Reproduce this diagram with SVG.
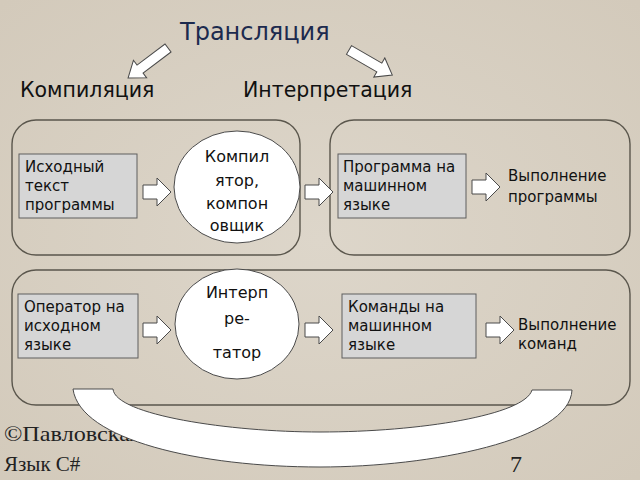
<svg xmlns="http://www.w3.org/2000/svg" width="640" height="480" viewBox="0 0 640 480">
<defs>
<style>
.t{font-family:"DejaVu Sans","Noto Sans",sans-serif;fill:#111}
.bx{fill:#d6d6d6;stroke:#5e5e5e;stroke-width:1}
.grp{fill:none;stroke:#5a564c;stroke-width:1.4}
.arr{fill:#fff;stroke:#4a4a4a;stroke-width:1}
.ov{fill:#fff;stroke:#4a4a4a;stroke-width:1}
.ser{font-family:"Liberation Serif","Times New Roman",serif;fill:#222}
</style>
<path id="ha" d="M0,-7 H14 V-14 L28,0 L14,14 V7 H0 Z"/>
<path id="la" d="M0,-5 H35 V-11 L50,0 L35,11 V5 H0 Z"/>
<radialGradient id="bg" cx="0.5" cy="0.5" r="0.7">
<stop offset="0" stop-color="#ddd6ca"/>
<stop offset="1" stop-color="#d3cabb"/>
</radialGradient>
</defs>
<rect width="640" height="480" fill="url(#bg)"/>
<g id="title">
<text class="t" x="180" y="40" font-size="24" style="fill:#1c2a4e">Трансляция</text>
</g>
<g id="compile-label"><text class="t" x="20" y="97" font-size="20.5">Компиляция</text></g>
<g id="interp-label"><text class="t" x="243" y="97" font-size="20.5">Интерпретация</text></g>
<g id="groups">
<rect class="grp" x="12" y="120" width="288" height="135" rx="24"/>
<rect class="grp" x="330" y="120" width="300" height="135" rx="24"/>
<rect class="grp" x="12" y="270" width="618" height="135" rx="24"/>
</g>
<g id="src">
<rect class="bx" x="19" y="154" width="118" height="64"/>
<text class="t" font-size="15"><tspan x="25" y="172">Исходный</tspan><tspan x="25" y="191">текст</tspan><tspan x="25" y="210">программы</tspan></text>
</g>
<g id="compiler">
<ellipse class="ov" cx="237" cy="187" rx="63" ry="56"/>
<text class="t" font-size="16" text-anchor="middle"><tspan x="237" y="162">Компил</tspan><tspan x="237" y="186">ятор,</tspan><tspan x="237" y="209">компон</tspan><tspan x="237" y="231">овщик</tspan></text>
</g>
<g id="machine">
<rect class="bx" x="338" y="154" width="128" height="64"/>
<text class="t" font-size="15"><tspan x="343" y="172">Программа на</tspan><tspan x="343" y="191">машинном</tspan><tspan x="343" y="210">языке</tspan></text>
</g>
<g id="run-prog">
<text class="t" font-size="15"><tspan x="508" y="181">Выполнение</tspan><tspan x="508" y="202">программы</tspan></text>
</g>
<g id="op">
<rect class="bx" x="18" y="294" width="120" height="64"/>
<text class="t" font-size="15"><tspan x="24" y="312">Оператор на</tspan><tspan x="24" y="331">исходном</tspan><tspan x="24" y="350">языке</tspan></text>
</g>
<g id="interpreter">
<ellipse class="ov" cx="237" cy="324" rx="62" ry="55"/>
<text class="t" font-size="16" text-anchor="middle"><tspan x="237" y="298">Интерп</tspan><tspan x="237" y="324">ре-</tspan><tspan x="237" y="358">татор</tspan></text>
</g>
<g id="cmds">
<rect class="bx" x="342" y="294" width="134" height="64"/>
<text class="t" font-size="15"><tspan x="348" y="312">Команды на</tspan><tspan x="348" y="331">машинном</tspan><tspan x="348" y="350">языке</tspan></text>
</g>
<g id="run-cmd">
<text class="t" font-size="15"><tspan x="518" y="330">Выполнение</tspan><tspan x="518" y="349">команд</tspan></text>
</g>
<g id="footer">
<text class="ser" x="4" y="441" font-size="22" textLength="137" lengthAdjust="spacingAndGlyphs">©Павловская</text>
<text class="ser" x="4" y="471" font-size="21">Язык C#</text>
<text class="ser" x="510" y="472" font-size="24">7</text>
</g>
<g id="connectors">
<use href="#la" class="arr" transform="translate(168,48) rotate(143)"/>
<use href="#la" class="arr" transform="translate(349,50) rotate(30)"/>
<use href="#ha" class="arr" transform="translate(143,192)"/>
<use href="#ha" class="arr" transform="translate(305,192)"/>
<use href="#ha" class="arr" transform="translate(472,187)"/>
<use href="#ha" class="arr" transform="translate(143,330)"/>
<use href="#ha" class="arr" transform="translate(305,330)"/>
<use href="#ha" class="arr" transform="translate(486,330)"/>
<path class="arr" d="M73,389 L113,389 C115,415 230,432 320,432 C420,432 525,415 532,390 L572,390 C570,440 430,467 320,467 C200,467 80,440 73,389 Z"/>
</g>
</svg>
